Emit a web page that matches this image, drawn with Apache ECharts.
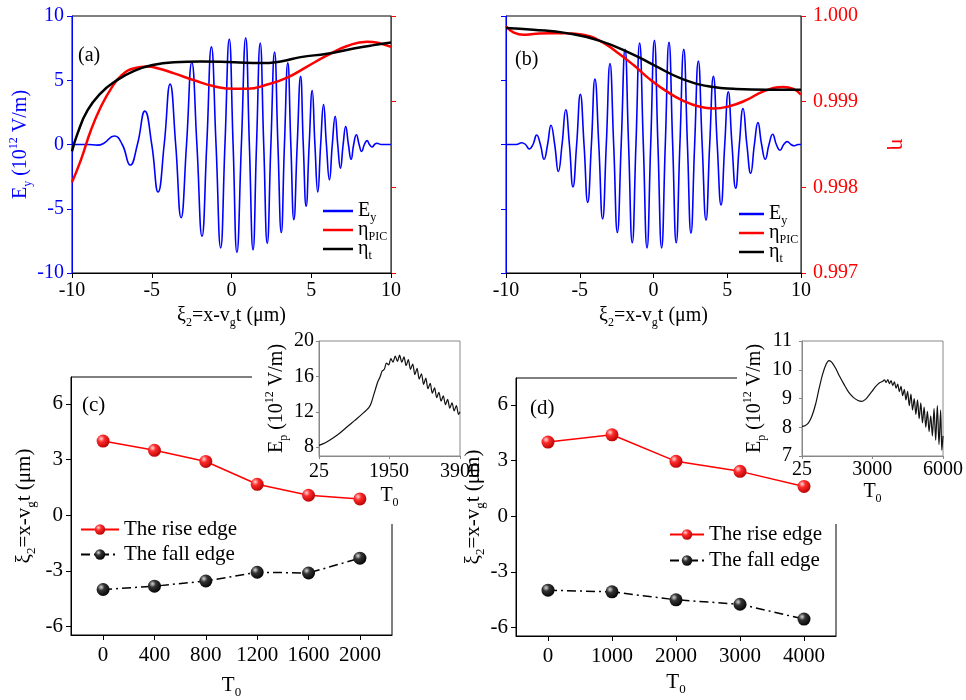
<!DOCTYPE html>
<html>
<head>
<meta charset="utf-8">
<title>ECharts</title>
<script src="https://cdn.jsdelivr.net/npm/echarts@6/dist/echarts.min.js"></script>
</head>
<body style="margin:0;background:#fff;">
<div id="main" style="width:966px;height:700px;"></div>
<script>
var FONT = 'Liberation Serif';
var BLUE = '#0000ff', RED = '#ff0000';

// (a) field Ey and eta curves
var aEy = [[-10,0],[-9,0],[-8.4,-0.05],[-8.0,0.1],[-7.35,0.66],[-6.85,0],[-6.35,-1.6],[-5.9,0],[-5.43,2.6],[-5.0,0],
  [-4.6,-3.7],[-4.22,0],[-3.85,4.7],[-3.5,0],[-3.16,-5.7],[-2.82,0],[-2.49,6.4],[-2.17,0],[-1.85,-7.15],[-1.55,0],
  [-1.26,7.6],[-0.97,0],[-0.68,-8.05],[-0.41,0],[-0.14,8.2],[0.1,0],[0.34,-8.4],[0.62,0],[0.89,8.3],[1.12,0],
  [1.35,-8.2],[1.57,0],[1.8,7.9],[2.02,0],[2.24,-7.7],[2.47,0],[2.7,7.2],[2.91,0],[3.12,-6.85],[3.32,0],
  [3.53,6.35],[3.72,0],[3.91,-5.85],[4.12,0],[4.33,5.3],[4.5,0],[4.68,-4.8],[4.87,0],[5.06,4.2],[5.23,0],
  [5.41,-3.7],[5.59,0],[5.77,3.1],[5.95,0],[6.14,-2.75],[6.32,0],[6.5,2.2],[6.66,0],[6.83,-1.85],[7.0,0],
  [7.16,1.4],[7.33,0],[7.5,-1.15],[7.66,0],[7.83,0.76],[8.0,0],[8.16,-0.55],[8.33,0],[8.5,0.3],[8.65,0],
  [8.81,-0.2],[8.97,0],[9.12,0.1],[9.4,0],[10,0]];
var aEtaPic = [[-10,0.99806],[-9.44,0.99832],[-8.81,0.99867],[-8.19,0.99894],[-7.56,0.99915],[-6.93,0.9993],
  [-6.1,0.99939],[-5.27,0.99941],[-4.64,0.99939],[-3.6,0.99933],[-2.35,0.99925],[-1.09,0.99918],[0.16,0.99915],
  [0.99,0.99915],[2.24,0.9992],[3.49,0.99928],[4.74,0.99941],[6.0,0.99954],[7.25,0.99965],[8.5,0.9997],
  [9.33,0.99968],[10,0.99964]];
var aEtaT = [[-10,0.99842],[-9.65,0.99863],[-9.02,0.9989],[-8.19,0.9991],[-7.35,0.99923],[-6.1,0.99936],
  [-4.85,0.99943],[-3.6,0.99946],[-1.93,0.99947],[0.16,0.99946],[1.83,0.99945],[3.08,0.99947],[4.33,0.99952],
  [6.0,0.99956],[7.66,0.99962],[8.92,0.99966],[10,0.99969]];

// (b)
var bEy = [[-10,0],[-9.3,0],[-8.94,0.14],[-8.68,0],[-8.42,-0.35],[-8.17,0],[-7.92,0.74],[-7.67,0],[-7.42,-1.15],[-7.18,0],
  [-6.95,1.5],[-6.7,0],[-6.45,-2.1],[-6.2,0],[-5.95,2.7],[-5.7,0],[-5.46,-3.3],[-5.21,0],[-4.96,3.9],[-4.71,0],
  [-4.46,-4.5],[-4.21,0],[-3.97,5.1],[-3.71,0],[-3.45,-5.8],[-3.2,0],[-2.95,6.3],[-2.7,0],[-2.45,-6.85],[-2.19,0],
  [-1.93,7.4],[-1.69,0],[-1.44,-7.65],[-1.19,0],[-0.94,7.9],[-0.69,0],[-0.44,-8.05],[-0.19,0],[0.06,8.1],[0.3,0],
  [0.55,-8.05],[0.8,0],[1.05,7.95],[1.3,0],[1.54,-7.65],[1.79,0],[2.05,7.4],[2.3,0],[2.54,-6.9],[2.79,0],
  [3.04,6.5],[3.3,0],[3.56,-5.9],[3.81,0],[4.06,5.3],[4.32,0],[4.58,-4.7],[4.83,0],[5.07,4.1],[5.32,0],
  [5.57,-3.4],[5.82,0],[6.07,2.8],[6.33,0],[6.59,-2.25],[6.84,0],[7.08,1.7],[7.33,0],[7.58,-1.15],[7.83,0],
  [8.08,0.8],[8.33,0],[8.58,-0.45],[8.83,0],[9.07,0.22],[9.32,0],[9.57,-0.1],[9.8,0],[10,0]];
var bEtaPic = [[-10,0.99988],[-9.5,0.99981],[-8.82,0.99978],[-8.15,0.99979],[-7.02,0.9998],[-5.89,0.9998],
  [-4.76,0.99978],[-3.63,0.99971],[-2.5,0.99958],[-1.37,0.99943],[-0.24,0.99926],[0.89,0.99912],[2.02,0.99901],
  [3.15,0.99894],[4.06,0.99892],[5.19,0.99895],[6.32,0.99902],[7.45,0.99912],[8.8,0.99917],[9.48,0.99915],[10,0.99908]];
var bEtaT = [[-10,0.99986],[-8.15,0.99984],[-5.89,0.9998],[-3.63,0.99971],[-1.37,0.99955],[-0.01,0.99943],
  [2.02,0.99926],[4.06,0.99917],[5.41,0.99915],[7.67,0.99914],[10,0.99914]];
var etaTicks = [0.997, 0.998, 0.999, 1.000];

// (c) and (d)
var cT0 = [0, 400, 800, 1200, 1600, 2000];
var cRise = [4.0, 3.5, 2.9, 1.67, 1.08, 0.88];
var cFall = [-4.0, -3.82, -3.54, -3.07, -3.11, -2.31];
var dT0 = [0, 1000, 2000, 3000, 4000];
var dRise = [4.0, 4.39, 2.96, 2.42, 1.61];
var dFall = [-3.98, -4.07, -4.5, -4.74, -5.54];
var xiTicks = [-6, -3, 0, 3, 6];

// insets, peak field Ep vs T0
var cInsetTicksX = [25, 1950, 3900];
var cInsetTicksY = [8, 12, 16, 20];
var dInsetTicksX = [25, 3000, 6000];
var dInsetTicksY = [7, 8, 9, 10, 11];
var cInset = [[25,8.2],[200,8.5],[400,9.0],[600,9.6],[800,10.3],[1000,11.0],[1200,11.7],[1400,12.5],[1460,13.0],
  [1520,13.8],[1580,14.6],[1640,15.4],[1700,15.9],[1760,16.6],[1820,16.8],[1880,17.5],[1940,17.3],[2000,18.0],
  [2060,17.6],[2120,18.3],[2180,17.7],[2240,18.4],[2300,17.6],[2360,18.2],[2420,17.2],[2480,17.9],[2540,16.8],
  [2600,17.4],[2660,16.2],[2720,16.9],[2780,15.7],[2840,16.3],[2900,15.1],[2960,15.8],[3020,14.6],[3080,15.2],
  [3140,14.1],[3200,14.7],[3260,13.6],[3320,14.2],[3380,13.2],[3440,13.8],[3500,12.8],[3560,13.4],[3620,12.4],
  [3680,13.0],[3740,12.1],[3800,12.7],[3860,11.7],[3900,12.0]];
var dInset = [[25,8.03],[150,8.05],[300,8.15],[450,8.4],[600,8.8],[750,9.35],[900,9.85],[1050,10.2],[1170,10.32],
  [1300,10.25],[1450,10.05],[1600,9.8],[1800,9.5],[2000,9.22],[2200,9.04],[2400,8.93],[2550,8.9],[2700,8.96],
  [2850,9.1],[3000,9.26],[3150,9.42],[3300,9.54],[3450,9.6],[3520,9.65],[3590,9.56],[3660,9.66],[3730,9.52],
  [3800,9.62],[3870,9.45],[3940,9.58],[4010,9.36],[4080,9.5],[4150,9.24],[4220,9.42],[4290,9.1],[4360,9.32],
  [4430,8.95],[4500,9.25],[4570,8.75],[4640,9.15],[4710,8.6],[4780,9.0],[4850,8.45],[4920,8.95],[4990,8.3],
  [5060,8.85],[5130,8.15],[5200,8.7],[5270,8.0],[5340,8.55],[5410,7.85],[5480,8.4],[5550,7.7],[5620,8.65],
  [5690,7.55],[5760,8.75],[5830,7.4],[5900,8.6],[5950,7.2],[6000,7.7]];

function rich(color, size) {
  var s = Math.round(size * 0.62);
  return {
    b: {fontFamily: FONT, fontSize: size, color: color, lineHeight: size + 6},
    s: {fontFamily: FONT, fontSize: s, color: color, lineHeight: s, verticalAlign: 'bottom'},
    p: {fontFamily: FONT, fontSize: s, color: color, lineHeight: s, verticalAlign: 'top'}
  };
}
var XI = '{b|ξ}{s|2}{b|=x-v}{s|g}{b|t (μm)}';
var T0 = '{b|T}{s|0}';
var EY = '{b|E}{s|y}{b| (10}{p|12}{b| V/m)}';
var EP = '{b|E}{s|p}{b| (10}{p|12}{b| V/m)}';
var legendNames = {'Ey': '{b|E}{s|y}', 'ηPIC': '{b|η}{s|PIC}', 'ηt': '{b|η}{s|t}'};

function pairs(xs, ys) { return xs.map(function (x, i) { return [x, ys[i]]; }); }
function plain(v) { return String(v); }
function ball(c1, c2, c3) {
  return {type: 'radial', x: 0.35, y: 0.32, r: 0.75,
    colorStops: [{offset: 0, color: c1}, {offset: 0.35, color: c2}, {offset: 1, color: c3}]};
}
var redBall = ball('#ffd8d8', '#ff2a2a', '#b00000');
var blackBall = ball('#d8d8d8', '#333333', '#000000');

function lbl(color, size, extra) {
  var o = {color: color, fontFamily: FONT, fontSize: size, formatter: plain, showMinLabel: true, showMaxLabel: true};
  for (var k in extra) o[k] = extra[k];
  return o;
}
function line(color) { return {onZero: false, lineStyle: {color: color}}; }

var chart = echarts.init(document.getElementById('main'));

var option = {
  animation: false,
  backgroundColor: '#fff',
  textStyle: {fontFamily: FONT},
  grid: [
    {left: 72, top: 16, width: 319, height: 257, show: true, borderColor: '#000', borderWidth: 1},
    {left: 506, top: 16, width: 295, height: 257, show: true, borderColor: '#000', borderWidth: 1},
    {left: 71, top: 377, width: 321, height: 258, show: true, borderColor: '#000', borderWidth: 1},
    {left: 516, top: 378, width: 320, height: 258, show: true, borderColor: '#000', borderWidth: 1},
    {left: 319, top: 341, width: 141, height: 115, show: true, borderColor: '#888', borderWidth: 1, zlevel: 1},
    {left: 802, top: 341, width: 144, height: 115, show: true, borderColor: '#888', borderWidth: 1, zlevel: 1}
  ],
  xAxis: [
    {gridIndex: 0, type: 'value', min: -10, max: 10, interval: 5, splitLine: {show: false},
      axisLine: line('#000'), axisTick: {length: 5, lineStyle: {color: '#000'}},
      axisLabel: lbl('#000', 20, {margin: 8}),
      name: XI, nameLocation: 'middle', nameGap: 30, nameTextStyle: {rich: rich('#000', 20)}},
    {gridIndex: 1, type: 'value', min: -10, max: 10, interval: 5, splitLine: {show: false},
      axisLine: line('#000'), axisTick: {length: 5, lineStyle: {color: '#000'}},
      axisLabel: lbl('#000', 20, {margin: 8}),
      name: XI, nameLocation: 'middle', nameGap: 30, nameTextStyle: {rich: rich('#000', 20)}},
    {gridIndex: 2, type: 'value', min: -250, max: 2250, splitLine: {show: false},
      axisLine: line('#000'),
      axisTick: {length: 5, customValues: cT0, lineStyle: {color: '#000'}},
      axisLabel: lbl('#000', 21, {margin: 10, customValues: cT0}),
      name: T0, nameLocation: 'middle', nameGap: 37, nameTextStyle: {rich: rich('#000', 21)}},
    {gridIndex: 3, type: 'value', min: -500, max: 4500, splitLine: {show: false},
      axisLine: line('#000'),
      axisTick: {length: 5, customValues: dT0, lineStyle: {color: '#000'}},
      axisLabel: lbl('#000', 21, {margin: 10, customValues: dT0}),
      name: T0, nameLocation: 'middle', nameGap: 33, nameTextStyle: {rich: rich('#000', 21)}},
    {gridIndex: 4, type: 'value', min: 25, max: 3900, splitLine: {show: false}, zlevel: 1,
      axisLine: line('#888'),
      axisTick: {length: 3, customValues: cInsetTicksX, lineStyle: {color: '#888'}},
      axisLabel: lbl('#000', 20, {margin: 6, customValues: cInsetTicksX}),
      name: T0, nameLocation: 'middle', nameGap: 27, nameTextStyle: {rich: rich('#000', 20)}},
    {gridIndex: 5, type: 'value', min: 25, max: 6000, splitLine: {show: false}, zlevel: 1,
      axisLine: line('#888'),
      axisTick: {length: 3, customValues: dInsetTicksX, lineStyle: {color: '#888'}},
      axisLabel: lbl('#000', 20, {margin: 4, customValues: dInsetTicksX}),
      name: T0, nameLocation: 'middle', nameGap: 23, nameTextStyle: {rich: rich('#000', 20)}}
  ],
  yAxis: [
    {gridIndex: 0, type: 'value', min: -10, max: 10, interval: 5, splitLine: {show: false},
      axisLine: line(BLUE), axisTick: {length: 5, lineStyle: {color: BLUE}},
      axisLabel: lbl(BLUE, 20, {margin: 8}),
      name: EY, nameLocation: 'middle', nameRotate: 90, nameGap: 37, nameTextStyle: {rich: rich(BLUE, 20)}},
    {gridIndex: 0, type: 'value', position: 'right', min: 0.997, max: 1.0, splitLine: {show: false},
      axisLine: {show: true, onZero: false, lineStyle: {color: RED}},
      axisTick: {show: true, length: 5, customValues: etaTicks, lineStyle: {color: RED}},
      axisLabel: {show: false}},
    {gridIndex: 1, type: 'value', min: -10, max: 10, interval: 5, splitLine: {show: false},
      axisLine: line(BLUE), axisTick: {length: 5, lineStyle: {color: BLUE}},
      axisLabel: {show: false}},
    {gridIndex: 1, type: 'value', position: 'right', min: 0.997, max: 1.0, splitLine: {show: false},
      axisLine: {show: true, onZero: false, lineStyle: {color: RED}},
      axisTick: {show: true, length: 5, customValues: etaTicks, lineStyle: {color: RED}},
      axisLabel: lbl(RED, 20, {margin: 12, customValues: etaTicks,
        formatter: function (v) { return v.toFixed(3); }}),
      name: '{b|η}', nameLocation: 'middle', nameRotate: -90, nameGap: 83, nameTextStyle: {rich: rich(RED, 22)}},
    {gridIndex: 2, type: 'value', min: -6.45, max: 7.45, splitLine: {show: false},
      axisLine: line('#000'),
      axisTick: {length: 5, customValues: xiTicks, lineStyle: {color: '#000'}},
      axisLabel: lbl('#000', 21, {margin: 8, customValues: xiTicks}),
      name: XI, nameLocation: 'middle', nameRotate: 90, nameGap: 33, nameTextStyle: {rich: rich('#000', 21)}},
    {gridIndex: 3, type: 'value', min: -6.45, max: 7.45, splitLine: {show: false},
      axisLine: line('#000'),
      axisTick: {length: 5, customValues: xiTicks, lineStyle: {color: '#000'}},
      axisLabel: lbl('#000', 21, {margin: 8, customValues: xiTicks}),
      name: XI, nameLocation: 'middle', nameRotate: 90, nameGap: 25, nameTextStyle: {rich: rich('#000', 21)}},
    {gridIndex: 4, type: 'value', min: 7, max: 20, splitLine: {show: false}, zlevel: 1,
      axisLine: line('#888'),
      axisTick: {length: 3, customValues: cInsetTicksY, lineStyle: {color: '#888'}},
      axisLabel: lbl('#000', 20, {margin: 5, customValues: cInsetTicksY}),
      name: EP, nameLocation: 'middle', nameRotate: 90, nameGap: 29, nameTextStyle: {rich: rich('#000', 20)}},
    {gridIndex: 5, type: 'value', min: 7, max: 11, splitLine: {show: false}, zlevel: 1,
      axisLine: line('#888'),
      axisTick: {length: 3, customValues: dInsetTicksY, lineStyle: {color: '#888'}},
      axisLabel: lbl('#000', 20, {margin: 10, customValues: dInsetTicksY, hideOverlap: false}),
      name: EP, nameLocation: 'middle', nameRotate: 90, nameGap: 32, nameTextStyle: {rich: rich('#000', 20)}}
  ],
  legend: [
    {left: 318, top: 196, orient: 'vertical', icon: 'rect', itemWidth: 30, itemHeight: 2.5, itemGap: -4,
      data: ['Ey', 'ηPIC', 'ηt'],
      formatter: function (n) { return legendNames[n]; },
      textStyle: {rich: rich('#000', 20)}},
    {left: 734, top: 199, orient: 'vertical', icon: 'rect', itemWidth: 25, itemHeight: 2.5, itemGap: -4,
      data: ['Ey ', 'ηPIC ', 'ηt '],
      formatter: function (n) { return legendNames[n.trim()]; },
      textStyle: {rich: rich('#000', 20)}},
    {left: 75, top: 514, orient: 'vertical', itemWidth: 38, itemHeight: 13, itemGap: 4,
      data: ['The rise edge', 'The fall edge'],
      textStyle: {fontFamily: FONT, fontSize: 21, color: '#000'}},
    {left: 664, top: 519, orient: 'vertical', itemWidth: 34, itemHeight: 13, itemGap: 5,
      data: ['The rise edge ', 'The fall edge '],
      formatter: function (n) { return n.trim(); },
      textStyle: {fontFamily: FONT, fontSize: 21, color: '#000'}}
  ],
  graphic: [
    {type: 'rect', z: 1, shape: {x: 252, y: 368, width: 146, height: 156}, style: {fill: '#fff'}},
    {type: 'rect', z: 1, shape: {x: 737, y: 368, width: 105, height: 156}, style: {fill: '#fff'}},
    {type: 'text', left: 78, top: 46, style: {text: '(a)', font: '20px "Liberation Serif"', fill: '#000'}},
    {type: 'text', left: 515, top: 50, style: {text: '(b)', font: '20px "Liberation Serif"', fill: '#000'}},
    {type: 'text', left: 82, top: 395, style: {text: '(c)', font: '21px "Liberation Serif"', fill: '#000'}},
    {type: 'text', left: 530, top: 398, style: {text: '(d)', font: '21px "Liberation Serif"', fill: '#000'}}
  ],
  series: [
    {name: 'Ey', type: 'line', xAxisIndex: 0, yAxisIndex: 0, data: aEy, smooth: 0.5, symbol: 'none',
      lineStyle: {color: BLUE, width: 1.6}, itemStyle: {color: BLUE}},
    {name: 'ηPIC', type: 'line', xAxisIndex: 0, yAxisIndex: 1, data: aEtaPic, smooth: true, symbol: 'none',
      lineStyle: {color: RED, width: 2.5}, itemStyle: {color: RED}},
    {name: 'ηt', type: 'line', xAxisIndex: 0, yAxisIndex: 1, data: aEtaT, smooth: true, symbol: 'none',
      lineStyle: {color: '#000', width: 2.5}, itemStyle: {color: '#000'}},
    {name: 'Ey ', type: 'line', xAxisIndex: 1, yAxisIndex: 2, data: bEy, smooth: 0.5, symbol: 'none',
      lineStyle: {color: BLUE, width: 1.6}, itemStyle: {color: BLUE}},
    {name: 'ηPIC ', type: 'line', xAxisIndex: 1, yAxisIndex: 3, data: bEtaPic, smooth: true, symbol: 'none',
      lineStyle: {color: RED, width: 2.5}, itemStyle: {color: RED}},
    {name: 'ηt ', type: 'line', xAxisIndex: 1, yAxisIndex: 3, data: bEtaT, smooth: true, symbol: 'none',
      lineStyle: {color: '#000', width: 2.5}, itemStyle: {color: '#000'}},
    {name: 'The rise edge', type: 'line', xAxisIndex: 2, yAxisIndex: 4, data: pairs(cT0, cRise),
      symbol: 'circle', symbolSize: 13, lineStyle: {color: RED, width: 1.5}, itemStyle: {color: redBall}},
    {name: 'The fall edge', type: 'line', xAxisIndex: 2, yAxisIndex: 4, data: pairs(cT0, cFall),
      symbol: 'circle', symbolSize: 13, lineStyle: {color: '#000', width: 1.5, type: [9, 4, 2, 4]},
      itemStyle: {color: blackBall}},
    {name: 'The rise edge ', type: 'line', xAxisIndex: 3, yAxisIndex: 5, data: pairs(dT0, dRise),
      symbol: 'circle', symbolSize: 13, lineStyle: {color: RED, width: 1.5}, itemStyle: {color: redBall}},
    {name: 'The fall edge ', type: 'line', xAxisIndex: 3, yAxisIndex: 5, data: pairs(dT0, dFall),
      symbol: 'circle', symbolSize: 13, lineStyle: {color: '#000', width: 1.5, type: [9, 4, 2, 4]},
      itemStyle: {color: blackBall}},
    {type: 'line', xAxisIndex: 4, yAxisIndex: 6, data: cInset, smooth: 0.3, symbol: 'none', zlevel: 1,
      lineStyle: {color: '#111', width: 1.2}},
    {type: 'line', xAxisIndex: 5, yAxisIndex: 7, data: dInset, smooth: 0.3, symbol: 'none', zlevel: 1,
      lineStyle: {color: '#111', width: 1.2}}
  ]
};

chart.setOption(option);
</script>
</body>
</html>
